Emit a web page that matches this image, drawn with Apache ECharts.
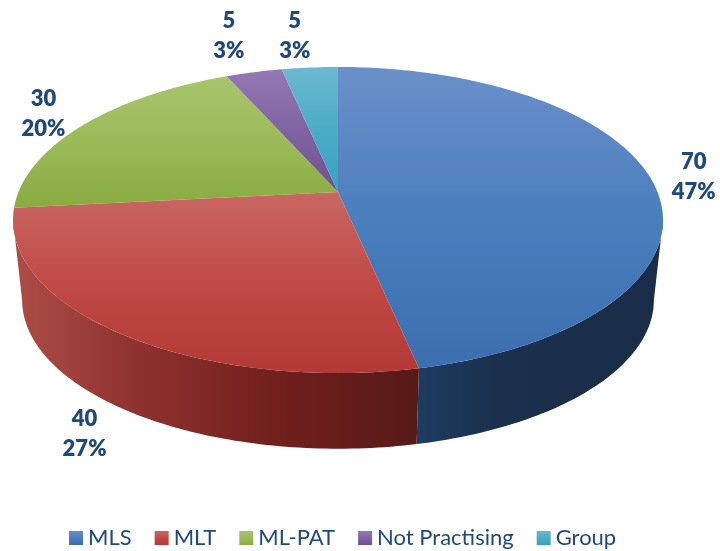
<!DOCTYPE html>
<html>
<head>
<meta charset="utf-8">
<style>html,body{margin:0;background:#fff}#main{width:720px;height:551px}</style>
<script src="https://cdn.jsdelivr.net/npm/echarts@6/dist/echarts.min.js"></script>
</head>
<body>
<div id="main"></div>
<script>
const categories = ['MLS', 'MLT', 'ML-PAT', 'Not Practising', 'Group'];
const values = [70, 40, 30, 5, 5];
const total = values.reduce((a, b) => a + b, 0);

// top face colours: light edge, base, lower edge
const topColors = [
  ['#6b90c9', '#4a7ebd', '#3c6eb0'],
  ['#c96762', '#c04a47', '#b23936'],
  ['#a9c46c', '#9bbb59', '#8aab41'],
  ['#9478b4', '#8064a2', '#70508f'],
  ['#6cb8d0', '#4bacc6', '#35a3c4']
];
// rim colours, left to right
const sideColors = [
  ['#1c3c60', '#1a304d', '#1a2e4a', '#192d49'],
  ['#ac4d47', '#8c302d', '#701f1d', '#561a17'],
  null, null, null
];
// label offsets from the rim point at each slice's middle
const labelOffsets = [[44, 0], [-33, 101], [-41, -10], [-25, -36], [-15, -32]];

// the pie is a tilted disc, so the circle goes through a perspective map
const cx = 338, cy = 192, rx = 319.5, ry = 147.9, persp = 0.183;
const depthY = 80, baseScale = 0.972, midY = 220;

function topPoint(deg) {
  const a = deg * Math.PI / 180;
  const u = Math.sin(a), v = -Math.cos(a), w = 1 - persp * v;
  return [cx + rx * u / w, cy + ry * v / w];
}
function basePoint(deg) {
  const p = topPoint(deg);
  return [cx + (p[0] - cx) * baseScale, midY + depthY + (p[1] - midY) * baseScale];
}
function arc(fn, from, to) {
  const pts = [], n = Math.max(2, Math.ceil(Math.abs(to - from)));
  for (let i = 0; i <= n; i++) pts.push(fn(from + (to - from) * i / n));
  return pts;
}
function vGrad(c) {
  return new echarts.graphic.LinearGradient(0, 0, 0, 1, [
    { offset: 0, color: c[0] }, { offset: 0.5, color: c[1] }, { offset: 1, color: c[2] }
  ]);
}
function hGrad(c) {
  return new echarts.graphic.LinearGradient(0, 0, 1, 0,
    c.map((color, i) => ({ offset: i / (c.length - 1), color: color })));
}

// rim is only visible between the disc's left and right extremes
const rimFrom = 100.5, rimTo = 259.5;

function makeRender(idx) {
  return function (params, api) {
    const val = api.value(0);
    let before = 0;
    for (let i = 0; i < idx; i++) before += values[i];
    const start = before / total * 360, end = (before + val) / total * 360, mid = (start + end) / 2;
    const children = [];
    const s0 = Math.max(start, rimFrom), s1 = Math.min(end, rimTo);
    if (s1 > s0 && sideColors[idx]) {
      children.push({
        type: 'polygon',
        shape: { points: arc(topPoint, s0, s1).concat(arc(basePoint, s1, s0)) },
        style: { fill: hGrad(sideColors[idx]) }
      });
    }
    children.push({
      type: 'polygon',
      shape: { points: [[cx, cy]].concat(arc(topPoint, start, end)) },
      style: { fill: vGrad(topColors[idx]) }
    });
    const rim = topPoint(mid), off = labelOffsets[idx];
    children.push({
      type: 'text',
      x: rim[0] + off[0],
      y: rim[1] + off[1],
      style: {
        text: val + '\n' + Math.round(val / total * 100) + '%',
        fill: '#1f497d',
        font: '800 22px Lato',
        lineHeight: 30,
        align: 'center',
        verticalAlign: 'middle'
      }
    });
    return { type: 'group', children: children };
  };
}

const chart = echarts.init(document.getElementById('main'));
chart.setOption({
  animation: false,
  backgroundColor: '#fff',
  legend: {
    left: 64,
    top: 522,
    icon: 'rect',
    itemWidth: 14,
    itemHeight: 14,
    itemGap: 23,
    textStyle: { color: '#1f497d', fontFamily: 'Lato', fontSize: 22 },
    data: categories
  },
  series: categories.map((name, i) => ({
    type: 'custom',
    name: name,
    coordinateSystem: 'none',
    renderItem: makeRender(i),
    itemStyle: { color: vGrad(topColors[i]) },
    data: [[values[i]]]
  }))
});
</script>
</body>
</html>
